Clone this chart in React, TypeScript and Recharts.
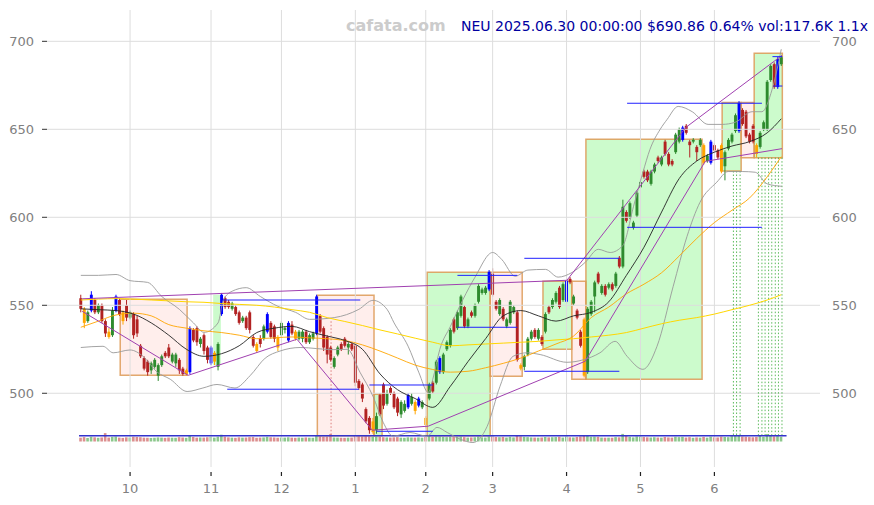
import React from "react";
import {
  ComposedChart,
  Bar,
  Line,
  XAxis,
  YAxis,
  ReferenceArea,
  ReferenceLine,
} from "recharts";

// daily candles, Sep 11 2024 .. Jun 30 2025 (index = trading day)
const opens = [
  554, 548, 541, 547, 553, 546, 550, 541, 535, 533, 547, 553, 546, 550, 543, 545, 542, 527, 520, 518,
  513, 515, 510, 516, 523, 526, 518, 517, 519, 514, 511, 512, 536, 537, 528, 533, 526, 517, 518, 515,
  545, 554, 552, 548, 549, 546, 541, 543, 546, 532, 528, 531, 531, 535, 540, 538, 532, 533, 536, 530,
  539, 535, 531, 531, 535, 529, 531, 534, 544, 537, 532, 526, 515, 522, 528, 531, 526, 528, 527, 507,
  505, 491, 486, 478, 479, 499, 505, 494, 503, 500, 497, 488, 490, 492, 494, 495, 493, 492, 486, 497,
  506, 506, 512, 512, 525, 527, 542, 537, 544, 549, 538, 546, 544, 552, 557, 557, 559, 568, 552, 545,
  548, 538, 540, 546, 546, 516, 515, 522, 531, 536, 531, 532, 535, 549, 549, 552, 560, 553, 552, 565,
  551, 547, 535, 542, 512, 545, 555, 568, 557, 561, 560, 562, 561, 577, 572, 603, 600, 594, 601, 617,
  626, 626, 619, 626, 634, 630, 643, 636, 632, 637, 643, 644, 652, 643, 643, 640, 641, 641, 632, 631,
  641, 638, 641, 629, 639, 643, 649, 649, 661, 660, 647, 652, 641, 640, 650, 650, 678, 687, 674, 687,
];
const highs = [
  556, 549, 547, 558, 554, 551, 551, 542, 537, 549, 556, 554, 547, 553, 547, 546, 544, 528, 521, 519,
  518, 520, 517, 522, 524, 528, 523, 523, 520, 515, 514, 538, 537, 538, 532, 534, 527, 527, 524, 529,
  557, 555, 553, 552, 550, 547, 544, 544, 547, 533, 529, 533, 539, 546, 541, 539, 533, 541, 538, 541,
  541, 536, 536, 536, 536, 534, 535, 556, 545, 538, 533, 527, 521, 527, 529, 532, 529, 529, 528, 508,
  506, 492, 487, 486, 489, 500, 506, 502, 504, 501, 498, 496, 496, 500, 500, 496, 498, 496, 487, 506,
  507, 519, 521, 523, 530, 537, 543, 547, 556, 550, 543, 547, 551, 562, 560, 561, 570, 571, 553, 554,
  549, 543, 553, 550, 547, 517, 522, 532, 536, 537, 537, 533, 546, 550, 554, 558, 561, 563, 565, 566,
  556, 548, 536, 543, 549, 553, 564, 569, 562, 562, 563, 563, 569, 578, 610, 604, 609, 598, 615, 621,
  627, 627, 627, 631, 635, 635, 644, 637, 633, 648, 651, 652, 653, 644, 645, 641, 645, 642, 636, 644,
  642, 639, 642, 638, 645, 648, 659, 666, 662, 661, 648, 653, 642, 649, 655, 678, 687, 688, 691, 692,
];
const lows = [
  546, 537, 540, 546, 545, 545, 540, 532, 531, 532, 546, 544, 539, 541, 542, 531, 532, 520, 513, 510,
  511, 514, 507, 515, 520, 520, 517, 515, 511, 510, 510, 511, 529, 527, 526, 522, 517, 516, 516, 513,
  544, 548, 548, 547, 544, 539, 540, 536, 534, 526, 523, 526, 530, 534, 531, 529, 524, 532, 534, 529,
  533, 530, 530, 529, 528, 528, 530, 533, 534, 524, 517, 518, 514, 521, 524, 526, 522, 524, 504, 502,
  495, 483, 477, 477, 477, 487, 491, 493, 499, 491, 487, 486, 489, 491, 493, 488, 492, 491, 480, 496,
  500, 505, 511, 511, 524, 526, 534, 536, 543, 537, 537, 543, 543, 551, 556, 556, 558, 555, 547, 544,
  541, 537, 539, 545, 518, 513, 513, 521, 530, 531, 530, 527, 534, 545, 548, 551, 548, 552, 551, 562,
  550, 542, 526, 509, 511, 544, 546, 562, 556, 555, 559, 558, 560, 571, 571, 597, 599, 593, 600, 616,
  622, 620, 618, 625, 631, 629, 635, 629, 629, 636, 642, 643, 647, 634, 642, 632, 640, 630, 631, 630,
  637, 633, 625, 621, 638, 642, 648, 648, 652, 645, 642, 642, 634, 639, 649, 649, 677, 673, 673, 686,
];
const closes = [
  548, 540, 546, 556, 546, 550, 541, 534, 532, 547, 555, 545, 541, 543, 546, 533, 534, 521, 514, 512,
  517, 519, 516, 521, 521, 521, 522, 522, 513, 511, 513, 537, 530, 529, 531, 524, 519, 526, 523, 528,
  556, 549, 549, 551, 545, 540, 543, 537, 536, 527, 524, 528, 538, 545, 532, 531, 526, 540, 537, 540,
  534, 531, 535, 535, 529, 533, 534, 555, 535, 526, 522, 519, 520, 526, 525, 527, 528, 525, 506, 503,
  497, 484, 479, 484, 487, 488, 493, 500, 500, 492, 489, 495, 494, 499, 498, 490, 497, 495, 482, 505,
  501, 518, 520, 522, 529, 536, 535, 546, 555, 538, 542, 544, 550, 561, 559, 560, 569, 556, 548, 553,
  542, 542, 552, 549, 519, 514, 521, 531, 535, 532, 536, 528, 545, 546, 553, 557, 549, 562, 564, 563,
  555, 543, 527, 510, 548, 552, 563, 563, 561, 556, 562, 559, 568, 572, 606, 598, 608, 597, 614, 620,
  623, 621, 626, 630, 632, 634, 636, 630, 630, 647, 650, 651, 648, 641, 644, 637, 644, 631, 635, 643,
  638, 634, 626, 637, 644, 647, 658, 665, 653, 646, 643, 643, 636, 648, 654, 677, 686, 674, 690, 690.9,
];
// volume in thousands
const vols = [
  95, 110, 88, 120, 105, 92, 101, 210, 98, 115, 125, 97, 90, 104, 99, 118, 112, 107, 96, 93,
  89, 94, 102, 97, 91, 99, 95, 93, 108, 100, 92, 140, 113, 96, 101, 98, 106, 115, 97, 120,
  170, 121, 103, 96, 92, 104, 97, 99, 108, 111, 93, 98, 102, 117, 106, 101, 94, 99, 97, 105,
  96, 92, 98, 94, 101, 95, 93, 160, 130, 118, 122, 185, 101, 97, 94, 92, 96, 99, 150, 135,
  128, 142, 133, 118, 125, 120, 108, 102, 99, 104, 110, 96, 93, 105, 100, 98, 103, 95, 112, 140,
  118, 130, 126, 115, 109, 121, 114, 119, 124, 110, 98, 102, 106, 125, 104, 100, 128, 131, 112, 108,
  115, 99, 118, 103, 145, 129, 116, 109, 102, 98, 95, 100, 112, 103, 107, 111, 118, 99, 124, 105,
  101, 112, 128, 156, 150, 119, 122, 117, 98, 95, 96, 94, 110, 104, 190, 141, 118, 103, 126, 119,
  111, 104, 100, 107, 99, 96, 113, 101, 97, 118, 109, 115, 99, 108, 93, 102, 96, 114, 95, 121,
  104, 101, 123, 112, 108, 135, 150, 162, 125, 119, 110, 106, 114, 140, 118, 185, 160, 128, 135, 118,
];
const blueBars = [3, 10, 31, 37, 40, 53, 59, 67, 93, 96, 102, 116, 138, 171, 179, 187, 198];
const orangeBars = [1, 8, 12, 30, 38, 50, 56, 61, 83, 95, 98, 125, 143, 177, 182, 192];

const monthTicks = [14, 37, 57, 78, 98, 117, 138, 159, 180];
const monthLabels = ["10", "11", "12", "1", "2", "3", "4", "5", "6"];
const priceTicks = [500, 550, 600, 650, 700];

// [day, value]
const ma20: [number, number][] = [
  [0, 548], [5, 547.5], [10, 547], [15, 545], [20, 540], [25, 533], [30, 525], [35, 521], [40, 522.5],
  [45, 527], [50, 534.5], [55, 537], [60, 538], [65, 535], [70, 532.5], [75, 530], [80, 525], [85, 511],
  [90, 502], [95, 497], [100, 492], [105, 504], [110, 518], [115, 531], [120, 544], [125, 547], [130, 544],
  [135, 541], [140, 544], [145, 546], [150, 552], [155, 567], [160, 583], [165, 603], [170, 622], [175, 632],
  [180, 637], [185, 640.5], [190, 643], [195, 648], [199, 656],
];
const ma60: [number, number][] = [
  [0, 537.5], [5, 541], [10, 544.5], [15, 545.5], [20, 544], [25, 539], [30, 537], [35, 535.5], [40, 534.5],
  [45, 533], [50, 531], [55, 531.5], [60, 532], [65, 531.5], [70, 531], [75, 530], [80, 527.5], [85, 524],
  [90, 520], [95, 516], [100, 513.5], [105, 512], [110, 512.5], [115, 514.5], [120, 517], [125, 520],
  [130, 524], [135, 528], [140, 532.5], [145, 543], [150, 549], [155, 556.5], [160, 562], [165, 568.5],
  [170, 578], [175, 588], [180, 597], [185, 604], [190, 611], [195, 623], [199, 634.5],
];
const ma120: [number, number][] = [
  [0, 553], [5, 553.5], [10, 553.8], [15, 553.5], [20, 553], [25, 552.5], [30, 552], [35, 551.7], [40, 551],
  [45, 550.5], [50, 550], [55, 549], [60, 547.5], [65, 546], [70, 543], [75, 540.8], [80, 538.5], [85, 536],
  [90, 533.7], [95, 531.3], [100, 529], [105, 527], [110, 527.5], [115, 528], [120, 528.5], [125, 529],
  [130, 529.5], [135, 530.3], [140, 531], [145, 532], [150, 533], [155, 534.5], [160, 537], [165, 539.5],
  [170, 541.5], [175, 543], [180, 545], [185, 547.5], [190, 550], [195, 553], [199, 556],
];
const bandUpper: [number, number][] = [
  [0, 567], [5, 567], [10, 567.5], [14, 564], [19, 563], [23, 555], [28, 547.7], [32, 540], [35, 534.6],
  [39, 540], [40.5, 553], [43, 558], [47, 560], [51, 555], [56, 549.4], [61, 546], [65, 542], [72, 543],
  [79, 547.7], [83, 552.8], [87, 547.7], [89, 540], [93, 526.7], [96, 512], [98.7, 500.5], [100, 508],
  [102, 525], [105, 538], [108.6, 553.4], [112, 566], [117, 580], [119.6, 576], [123.4, 566.5], [127, 570],
  [132, 570.4], [135.6, 566], [139.6, 568.7], [143.3, 574.4], [147, 581.8], [150.4, 580], [154, 584],
  [157, 606], [159.7, 625.6], [161.7, 638.6], [164.6, 650], [166.6, 655.7], [169.7, 663], [173.7, 660],
  [178.2, 652.8], [182.2, 652.8], [185.9, 654], [190.7, 660], [193.5, 660], [196.4, 672.7], [199, 695.5],
];
const bandLower: [number, number][] = [
  [0, 526], [6.3, 526.7], [9.2, 523], [14, 524.6], [17.7, 521], [21.7, 512], [25.4, 508], [30.2, 501],
  [34.7, 503], [38.7, 505], [43.8, 503], [48.1, 510], [52.4, 520], [56.6, 524], [62.3, 526], [71.7, 524.8],
  [75.7, 525], [79.3, 512], [83, 498.3], [85.9, 483.5], [88.7, 475.6], [93.5, 477.7], [98.4, 475.6],
  [101.2, 480.6], [104.1, 477.7], [107.8, 473.9], [111.4, 472], [115.4, 481], [119.1, 504], [122.8, 521],
  [126.8, 523], [130.5, 522], [138.1, 517.6], [142.7, 519], [147.5, 523], [151.8, 529.5], [155.2, 521],
  [159.7, 513.6], [163.7, 526.7], [168.3, 560.8], [172.2, 589], [175.9, 608.5], [180.7, 620], [183.9, 626],
  [187.9, 626], [191.6, 625.6], [195, 619], [199.2, 617.6],
];
const upperTrend: [number, number][] = [[0.4, 553.7], [138.1, 564.2], [171.9, 651.1], [199.2, 692]];
const lowerTrend: [number, number][] = [
  [0.4, 546.6], [30.5, 510.2], [61.4, 530.7], [82.8, 479], [98.7, 481.3], [143.3, 518.2], [177.4, 631.8], [199.2, 639],
];

// [fromDay, toDay, low, high, kind]
const boxes: [number, number, number, number, string][] = [
  [11.2, 30.2, 510.2, 553.4, "down"],
  [37.6, 39.8, 516, 556, "plain"],
  [67.2, 83.3, 475.8, 555.7, "down"],
  [83.3, 85.6, 475.8, 499.4, "up"],
  [98.4, 116.3, 475.8, 568.8, "up"],
  [116.3, 125.4, 509.7, 568.8, "down"],
  [131.3, 139.5, 525, 563.6, "up"],
  [139.5, 143.5, 508, 563.6, "down"],
  [143.5, 176.5, 508, 644.3, "up"],
  [182.2, 187.6, 626.3, 665.3, "up"],
  [187.6, 191.3, 633.9, 665.3, "down"],
  [191.3, 199.3, 633.9, 693.2, "up"],
];
// [fromDay, toDay, price]
const levels: [number, number, number][] = [
  [40.4, 79.4, 553], [41.6, 79, 502.3], [82, 100, 504.7], [84, 100, 478.4],
  [107, 124, 537.5], [107, 124, 567], [126, 153, 512.5], [126, 153, 576.7],
  [155.2, 193.5, 594.3], [155.2, 193.5, 664.8], [196.5, 199.3, 691.3], [196.8, 199.3, 674.6],
];
// [day, top price]
const signals: [number, number][] = [
  [185.4, 626.3], [186.3, 626.3], [187.3, 626.3],
  [192.5, 633.9], [193.5, 633.9], [194.4, 633.9], [195.4, 633.9], [196.3, 633.9], [197.3, 633.9], [198.2, 633.9], [199.2, 633.9],
];

const X_DOMAIN: [number, number] = [-9.6, 210];
const P_DOMAIN: [number, number] = [458.1, 717.8];

const toPts = (pts: [number, number][]) => pts.map(([i, v]) => ({ i, v }));

const candleColor = (d: any) => {
  if (blueBars.includes(d.i)) return "#0000ff";
  if (orangeBars.includes(d.i)) return "#ffa500";
  return d.c >= d.o ? "#2e8b2e" : "#b22222";
};

const Candle = (props: any) => {
  const { x, y, width, height, payload } = props;
  if (!payload) return null;
  const top = Math.min(y, y + height);
  const span = Math.abs(height);
  const cx = x + width / 2;
  const k = payload.h - payload.l > 0 ? span / (payload.h - payload.l) : 0;
  const b1 = top + (payload.h - Math.max(payload.o, payload.c)) * k;
  const b2 = top + (payload.h - Math.min(payload.o, payload.c)) * k;
  const col = candleColor(payload);
  return (
    <g>
      <line x1={cx} x2={cx} y1={top} y2={top + span} stroke={col} strokeWidth={1} />
      <rect x={cx - 1.45} y={b1} width={2.9} height={Math.max(b2 - b1, 0.8)} fill={col} />
    </g>
  );
};

const VolBar = (props: any) => {
  const { x, y, width, height, payload } = props;
  if (!payload) return null;
  const up = payload.c >= payload.o;
  return (
    <rect
      x={x + width / 2 - 1.3}
      y={Math.min(y, y + height)}
      width={2.6}
      height={Math.abs(height)}
      fill={up ? "#8cc78c" : "#dc8f8f"}
    />
  );
};

const MonthTick = (props: any) => {
  const { x, y, payload } = props;
  const k = monthTicks.indexOf(payload.value);
  return (
    <g>
      <line x1={x} x2={x} y1={y + 5} y2={y + 9} stroke="#222" strokeWidth={1.2} />
      <text x={x} y={y + 26} textAnchor="middle" fontSize={13} fill="#808080">
        {monthLabels[k]}
      </text>
    </g>
  );
};

export default function App() {
  const rows = closes.map((c, i) => ({ i, o: opens[i], h: highs[i], l: lows[i], c, vol: vols[i] }));

  return (
    <div
      style={{
        position: "absolute",
        left: 0,
        top: 0,
        width: 874,
        height: 505,
        background: "#fff",
        fontFamily: "'DejaVu Sans', sans-serif",
      }}
    >
      <ComposedChart width={874} height={505} data={rows} margin={{ top: 10, right: 0, bottom: 0, left: 0 }}>
        <XAxis
          xAxisId="main"
          dataKey="i"
          type="number"
          domain={X_DOMAIN}
          ticks={monthTicks}
          interval={0}
          height={38}
          axisLine={false}
          tickLine={false}
          tickSize={0}
          tickMargin={0}
          tick={<MonthTick />}
          allowDataOverflow
        />
        <XAxis xAxisId="v" dataKey="i" type="number" domain={X_DOMAIN} hide allowDataOverflow />
        <YAxis
          yAxisId="left"
          domain={P_DOMAIN}
          ticks={priceTicks}
          width={47}
          axisLine={false}
          tickSize={5}
          tickMargin={8}
          tickLine={{ stroke: "#333" }}
          tick={{ fontSize: 13, fill: "#808080" }}
          allowDataOverflow
        />
        <YAxis
          yAxisId="right"
          orientation="right"
          domain={P_DOMAIN}
          ticks={priceTicks}
          width={54}
          axisLine={false}
          tickLine={false}
          tickSize={6}
          tickMargin={6}
          tick={{ fontSize: 13, fill: "#808080" }}
          allowDataOverflow
        />
        <YAxis yAxisId="vol" domain={[-637.5, 10787.5]} hide allowDataOverflow />

        {priceTicks.map((p) => (
          <ReferenceLine key={"gy" + p} xAxisId="main" yAxisId="left" y={p} stroke="#dddddd" strokeWidth={1} />
        ))}
        {monthTicks.map((m) => (
          <ReferenceLine key={"gx" + m} xAxisId="main" yAxisId="left" x={m} stroke="#dddddd" strokeWidth={1} />
        ))}

        {boxes.map(([a, b, lo, hi, kind], n) => (
          <ReferenceArea
            key={"box" + n}
            xAxisId="main"
            yAxisId="left"
            x1={a}
            x2={b}
            y1={lo}
            y2={hi}
            fill={kind === "down" ? "#ffc8c0" : "#33ee33"}
            fillOpacity={kind === "down" ? 0.3 : 0.25}
            stroke={kind === "plain" ? "none" : "#dd9955"}
            strokeOpacity={0.85}
            strokeWidth={1.5}
            ifOverflow="visible"
          />
        ))}

        <ReferenceLine
          xAxisId="main"
          yAxisId="left"
          segment={[{ x: 71.1, y: 540.9 }, { x: 71.1, y: 475.8 }]}
          stroke="#d06060"
          strokeDasharray="1.5 2"
          strokeWidth={0.8}
          ifOverflow="visible"
        />
        {signals.map(([d, top], n) => (
          <ReferenceLine
            key={"sig" + n}
            xAxisId="main"
            yAxisId="left"
            segment={[{ x: d, y: top }, { x: d, y: 475.8 }]}
            stroke="#33aa33"
            strokeDasharray="1.5 2"
            strokeWidth={0.8}
            ifOverflow="visible"
          />
        ))}

        <Bar
          xAxisId="v"
          yAxisId="vol"
          dataKey="vol"
          barSize={3}
          shape={<VolBar />}
          isAnimationActive={false}
        />
        <ReferenceLine
          xAxisId="v"
          yAxisId="vol"
          segment={[{ x: -0.5, y: 142 }, { x: 200.5, y: 142 }]}
          stroke="#3333cc"
          strokeWidth={1.5}
          ifOverflow="visible"
        />

        <Line xAxisId="main" yAxisId="left" data={toPts(bandUpper)} dataKey="v" type="monotone" stroke="#999" strokeWidth={0.9} dot={false} activeDot={false} isAnimationActive={false} />
        <Line xAxisId="main" yAxisId="left" data={toPts(bandLower)} dataKey="v" type="monotone" stroke="#999" strokeWidth={0.9} dot={false} activeDot={false} isAnimationActive={false} />
        <Line xAxisId="main" yAxisId="left" data={toPts(ma120)} dataKey="v" type="monotone" stroke="#ffd700" strokeWidth={1} dot={false} activeDot={false} isAnimationActive={false} />
        <Line xAxisId="main" yAxisId="left" data={toPts(ma60)} dataKey="v" type="monotone" stroke="#ffa500" strokeWidth={0.9} dot={false} activeDot={false} isAnimationActive={false} />
        <Line xAxisId="main" yAxisId="left" data={toPts(ma20)} dataKey="v" type="monotone" stroke="#222" strokeWidth={0.9} dot={false} activeDot={false} isAnimationActive={false} />

        <Bar
          xAxisId="main"
          yAxisId="left"
          dataKey={(d: any) => [d.l, d.h]}
          barSize={3}
          shape={<Candle />}
          isAnimationActive={false}
        />

        <Line xAxisId="main" yAxisId="left" data={toPts(upperTrend)} dataKey="v" type="linear" stroke="#a040b0" strokeWidth={1} dot={false} activeDot={false} isAnimationActive={false} />
        <Line xAxisId="main" yAxisId="left" data={toPts(lowerTrend)} dataKey="v" type="linear" stroke="#a040b0" strokeWidth={1} dot={false} activeDot={false} isAnimationActive={false} />

        {levels.map(([a, b, p], n) => (
          <ReferenceLine
            key={"lv" + n}
            xAxisId="main"
            yAxisId="left"
            segment={[{ x: a, y: p }, { x: b, y: p }]}
            stroke="#2020ff"
            strokeWidth={1}
            ifOverflow="visible"
          />
        ))}
      </ComposedChart>
      <svg width={874} height={505} style={{ position: "absolute", left: 0, top: 0, pointerEvents: "none" }}>
        <text x={346} y={31} fontSize={16} fontWeight="bold" fill="#cccccc">
          cafata.com
        </text>
        <text x={461} y={31} fontSize={14} fill="#0000a0">
          NEU 2025.06.30 00:00:00 $690.86 0.64% vol:117.6K 1.1x
        </text>
      </svg>
    </div>
  );
}
